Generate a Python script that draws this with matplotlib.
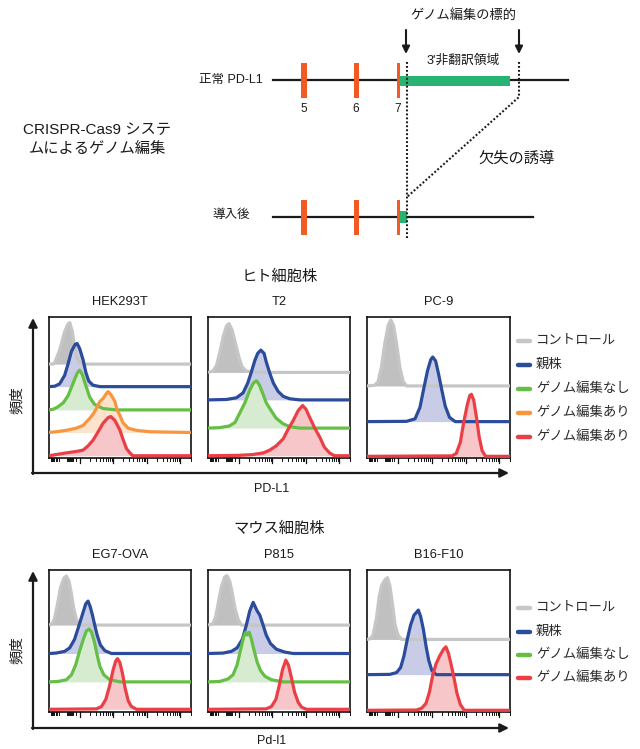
import matplotlib
matplotlib.use("Agg")
import matplotlib.pyplot as plt
from matplotlib.patches import Rectangle
import numpy as np

plt.rcParams['font.family'] = ['Liberation Sans', 'Noto Sans CJK JP']

# ---- data (x: % of panel width on the log axis, h: % of panel height) ----
series_line = ['#c6c6c6', '#2b4c9b', '#66bf45', '#f7963f', '#eb3f47']
series_fill = ['#c0c0c0', '#c9cce6', '#d6ebd0', '#fde2cc', '#f7c6c8']

human_titles = ['HEK293T', 'T2', 'PC-9']
mouse_titles = ['EG7-OVA', 'P815', 'B16-F10']
human_legend = ['コントロール', '親株', 'ゲノム編集なし', 'ゲノム編集あり', 'ゲノム編集あり']
mouse_legend = ['コントロール', '親株', 'ゲノム編集なし', 'ゲノム編集あり']

hek_series = [0, 1, 2, 3, 4]
hek_base = [66.6, 50.6, 34.1, 18.1, 1.6]
hek_x = [
    [0, 3, 4, 7.5, 11, 13.4, 14.6, 16.5, 18, 19.8, 21.6, 25, 100],
    [0, 4, 7.5, 11, 13.4, 15.8, 18.4, 19.8, 21.6, 24, 26, 28, 31, 36, 100],
    [0, 3, 6, 10, 13.4, 17, 19.8, 21.6, 23.5, 26, 28.7, 32, 38, 47.5, 100],
    [0, 5, 12, 19, 24, 28.7, 31, 33.4, 35.8, 38, 40, 41.6, 43.5, 46.4, 48, 50, 52, 55.8, 61.6, 71, 100],
    [0, 6, 12, 19, 24, 27.5, 31, 34.6, 38, 41.6, 43.5, 46.4, 50, 52, 54.6, 57, 59, 100],
]
hek_h = [
    [0, 0, 1, 10, 23, 28.5, 29.4, 23, 12, 4, 1, 0, 0],
    [0, 0.3, 2, 8, 16, 25, 30, 30.6, 27, 19, 10, 4, 1, 0, 0],
    [0, 0.5, 2, 5, 10, 19, 26, 28.2, 25, 17, 9, 4, 1, 0, 0],
    [0, 0.5, 1.5, 3, 5, 10, 13, 17, 22, 24, 27, 29, 27, 22, 16, 12, 7, 3, 1.5, 0.5, 0],
    [0, 1, 2, 3, 4, 7, 11, 17, 23, 27, 27.8, 25, 18, 12, 5, 2, 0, 0],
]

t2_series = [0, 1, 2, 4]
t2_base = [60.7, 41.2, 21.2, 1.6]
t2_x = [
    [0, 3.5, 6, 8.5, 10.6, 13, 14.8, 17, 19.5, 22, 24, 27, 32, 100],
    [0, 13, 20, 24.7, 28, 30.6, 33, 35, 37.2, 39.5, 41, 43.5, 46, 49.4, 53, 57.6, 64.7, 100],
    [0, 8, 15, 19, 22, 26, 29.4, 32, 34.1, 36, 38.8, 41, 44.7, 48, 53, 57.6, 64.7, 100],
    [0, 22, 31, 39, 43.5, 48, 53, 56, 60, 63.5, 66.6, 69, 71.7, 75, 78.8, 82, 85.6, 89, 100],
]
t2_h = [
    [0, 1, 5, 15, 25, 33, 34.6, 30, 20, 10, 4, 1, 0, 0],
    [0, 0.3, 1.5, 5, 12, 20, 28, 33, 35.3, 33, 27, 19, 12, 6, 2.5, 0.8, 0, 0],
    [0, 0.3, 1.5, 4, 10, 18, 27, 32, 33.6, 31, 24, 18, 12, 7, 3, 1, 0, 0],
    [0, 0.3, 0.8, 2, 4, 7, 12, 18, 25, 32, 35.6, 33, 27, 20, 13, 6, 2, 0, 0],
]

pc9_series = [0, 1, 4]
pc9_base = [51.1, 25.8, 1.2]
pc9_x = [
    [0, 5.4, 7.7, 10, 12.4, 14.8, 16.7, 18.5, 20.7, 23, 25.4, 27.7, 100],
    [0, 27.7, 33.6, 37, 39.4, 42.3, 44.6, 46, 48, 50, 52.4, 54.7, 57.7, 61.7, 100],
    [0, 59.4, 62.4, 65.3, 67.6, 70, 71.8, 73, 74.6, 76.5, 78.4, 80.5, 82.9, 100],
]
pc9_h = [
    [0, 0.5, 3, 13, 30, 43, 46.8, 43, 30, 13, 3, 0, 0],
    [0, 0.2, 2, 10, 22, 36, 44, 45.8, 43, 34, 22, 11, 3, 0, 0],
    [0, 0.3, 2, 10, 24, 36, 43, 44, 40, 28, 14, 4, 0, 0],
]

eg7_series = [0, 1, 2, 4]
eg7_base = [61.2, 41.2, 21.2, 1.9]
eg7_x = [
    [0, 2.4, 4, 6, 8, 10.4, 12.2, 14.1, 15.8, 17.4, 19.3, 21.6, 100],
    [0, 5, 11, 14.6, 18, 21.2, 24, 25.9, 27.5, 29, 30.6, 32.2, 33.9, 36.2, 39.3, 44, 100],
    [0, 6.4, 12.2, 15.8, 18.8, 21.6, 24.5, 26.4, 28.2, 30, 32, 33.9, 35.8, 38.6, 42.8, 50, 100],
    [0, 33.4, 37, 40, 42.8, 45.2, 47, 48.2, 49.9, 51.8, 53.6, 55.8, 58, 61.6, 100],
]
eg7_h = [
    [0, 1, 5, 15, 26, 33, 34.6, 31, 22, 12, 4, 0, 0],
    [0, 0.3, 1.5, 4, 10, 20, 29, 35, 36.9, 33, 27, 20, 13, 6, 2, 0, 0],
    [0, 0.3, 1.5, 5, 12, 22, 31, 36, 37.2, 35, 28, 19, 11, 5, 1.5, 0, 0],
    [0, 0.3, 2, 7, 17, 28, 34, 35.7, 33, 25, 15, 6, 2, 0, 0],
]

p815_series = [0, 1, 2, 4]
p815_base = [61.2, 41.2, 21.2, 1.9]
p815_x = [
    [0, 3.5, 5.4, 7.3, 9.4, 11.8, 13.4, 15.3, 17.2, 19, 21.2, 23.5, 100],
    [0, 10.6, 16.5, 20.5, 24.2, 27, 29.4, 31.8, 33.2, 34.6, 36.5, 38.8, 41, 44, 48.2, 54, 60, 100],
    [0, 8.2, 14, 17.6, 20.5, 22.8, 25.2, 26.6, 27.8, 29, 30.6, 32.5, 34.6, 37, 40, 44.7, 53, 100],
    [0, 41, 44.7, 47.8, 50, 52.5, 54.8, 56.7, 58.8, 61, 63.5, 65.9, 69.4, 100],
]
p815_h = [
    [0, 1, 6, 16, 27, 34, 34.8, 31, 22, 12, 4, 0, 0],
    [0, 0.3, 1.5, 4, 10, 20, 30, 36, 33, 30, 27, 20, 13, 7, 3, 1, 0, 0],
    [0, 0.3, 2, 5, 12, 22, 32, 35, 33, 35, 30, 22, 14, 8, 4, 1.5, 0, 0],
    [0, 0.3, 2, 7, 16, 28, 34.6, 31, 22, 12, 5, 1.5, 0, 0],
]

b16_series = [0, 1, 4]
b16_base = [51.1, 26.3, 1.2]
b16_x = [
    [0, 2.3, 4.2, 6.6, 8.5, 10.2, 12.5, 14.3, 16, 17.8, 19.7, 21.8, 24.2, 100],
    [0, 16, 20.7, 23.5, 25.8, 28.2, 30.5, 32.9, 34.7, 35.9, 37.5, 39.4, 41.3, 43.2, 45.3, 48.4, 100],
    [0, 34.7, 38.3, 41.3, 43.7, 46, 48.4, 50.7, 53.5, 55.2, 57, 58.9, 61, 62.9, 65.3, 68, 100],
]
b16_h = [
    [0, 0.5, 3, 15, 30, 38, 42, 43.5, 38, 25, 10, 3, 0, 0],
    [0, 0.2, 1.5, 5, 13, 25, 35, 42, 44, 45.5, 41, 32, 20, 10, 3, 0, 0],
    [0, 0.2, 1.5, 5, 13, 25, 33, 38, 43, 44.7, 40, 32, 22, 12, 4, 0, 0],
]

exon_labels = ['5', '6', '7']

# ---- figure ----
W, H = 640, 749
fig = plt.figure(figsize=(W / 100, H / 100), dpi=100)
bg = fig.add_axes([0, 0, 1, 1])
bg.set_xlim(0, W)
bg.set_ylim(H, 0)
bg.axis('off')

TXT = '#1a1a1a'

# gene diagram
bg.text(463, 15, 'ゲノム編集の標的', ha='center', va='center', fontsize=9.5, color=TXT)
for ax_x in (406, 519):
    bg.annotate('', xy=(ax_x, 54), xytext=(ax_x, 30),
                arrowprops=dict(arrowstyle='-|>', lw=1.5, color=TXT,
                                mutation_scale=11, shrinkA=0, shrinkB=0))
bg.text(463, 61, "3'非翻訳領域", ha='center', va='center', fontsize=9.2, color=TXT)
bg.text(263, 80, '正常 PD-L1', ha='right', va='center', fontsize=9, color=TXT)
bg.text(250, 215, '導入後', ha='right', va='center', fontsize=9, color=TXT)
bg.text(97, 130, 'CRISPR-Cas9 システ', ha='center', va='center', fontsize=11, color=TXT)
bg.text(97, 149, 'ムによるゲノム編集', ha='center', va='center', fontsize=11, color=TXT)
bg.text(517, 158, '欠失の誘導', ha='center', va='center', fontsize=11, color=TXT)

bg.plot([273, 568], [80, 80], color=TXT, lw=1.6, zorder=2)
bg.plot([273, 533], [217, 217], color=TXT, lw=1.6, zorder=2)
exon_x = [304, 356, 398]
exon_w = [6.5, 5, 3]
for ex, ew, lab in zip(exon_x, exon_w, exon_labels):
    bg.add_patch(Rectangle((ex - ew / 2, 63), ew, 35, color='#f15a24', lw=0, zorder=3))
    bg.add_patch(Rectangle((ex - ew / 2, 200), ew, 35, color='#f15a24', lw=0, zorder=3))
    bg.text(ex, 109, lab, ha='center', va='center', fontsize=8.5, color=TXT)
bg.add_patch(Rectangle((399, 76), 111, 10, color='#27b472', lw=0, zorder=3))
bg.add_patch(Rectangle((399, 211), 8, 12, color='#27b472', lw=0, zorder=3))
bg.plot([407, 407], [62, 240], color=TXT, lw=1.5, ls=(0, (0.9, 1.0)), zorder=4)
bg.plot([519, 519, 407], [62, 97, 197], color=TXT, lw=1.5, ls=(0, (0.9, 1.0)), zorder=4)


def log_ticks():
    d0, dw = 21.5, 23.7
    major = [d0 + k * dw for k in range(4)]
    minor = [d0 + (k + np.log10(m)) * dw for k in range(3) for m in range(2, 10)]
    minor += [d0 + (3 + np.log10(2)) * dw]
    minor += [d0 - np.log10(m) * 9 for m in range(2, 10)]
    minor += [10 - np.log10(m) * 9 for m in range(2, 10)]
    minor += [1.5]
    return major, minor


def draw_panel(box, title, series, base, xs, hs):
    x0, y0, x1, y1 = box
    ax = fig.add_axes([x0 / W, 1 - y1 / H, (x1 - x0) / W, (y1 - y0) / H])
    ax.set_xlim(0, 100)
    ax.set_ylim(0, 100)
    ax.set_xticks([])
    ax.set_yticks([])
    for s in ax.spines.values():
        s.set_linewidth(1.2)
        s.set_color('#111111')
    for i, (si, b, x, h) in enumerate(zip(series, base, xs, hs)):
        y = b + np.array(h)
        ax.fill_between(x, b, y, color=series_fill[si], lw=0, zorder=1 + i * 0.1)
        ax.plot(x, y, color=series_line[si], lw=2.3, zorder=3 + i * 0.1,
                solid_joinstyle='round', solid_capstyle='butt')
    major, minor = log_ticks()
    for t in major:
        ax.plot([t, t], [0, -3.2], color='#111111', lw=0.9, clip_on=False)
    for t in minor:
        ax.plot([t, t], [0, -1.8], color='#111111', lw=0.7, clip_on=False)
    bg.text((x0 + x1) / 2, y0 - 15, title, ha='center', va='center', fontsize=9.3, color=TXT)


def draw_legend(labels, colors, ys):
    for lab, c, y in zip(labels, colors, ys):
        bg.plot([518, 530], [y, y], color=c, lw=3.2, solid_capstyle='round')
        bg.text(536, y, lab, ha='left', va='center', fontsize=9.6, color='#2a2a2a')


def draw_frame(ytop, ybot):
    bg.annotate('', xy=(33, ytop), xytext=(33, ybot + 1),
                arrowprops=dict(arrowstyle='-|>', lw=1.6, color=TXT,
                                mutation_scale=13, shrinkA=0, shrinkB=0))
    bg.annotate('', xy=(509, ybot), xytext=(32, ybot),
                arrowprops=dict(arrowstyle='-|>', lw=1.6, color=TXT,
                                mutation_scale=13, shrinkA=0, shrinkB=0))


col_x = [(49, 191), (208, 350), (367, 510)]

# human panels
bg.text(280, 277, 'ヒト細胞株', ha='center', va='center', fontsize=11, color=TXT)
hy = (317, 458)
draw_panel((col_x[0][0], hy[0], col_x[0][1], hy[1]), human_titles[0], hek_series, hek_base, hek_x, hek_h)
draw_panel((col_x[1][0], hy[0], col_x[1][1], hy[1]), human_titles[1], t2_series, t2_base, t2_x, t2_h)
draw_panel((col_x[2][0], hy[0], col_x[2][1], hy[1]), human_titles[2], pc9_series, pc9_base, pc9_x, pc9_h)
draw_frame(318, 473)
bg.text(17, 400, '頻度', rotation=90, ha='center', va='center', fontsize=10, color=TXT)
bg.text(272, 489, 'PD-L1', ha='center', va='center', fontsize=9, color=TXT)
draw_legend(human_legend, series_line, [341, 365, 389, 413, 437])

# mouse panels
bg.text(279, 529, 'マウス細胞株', ha='center', va='center', fontsize=11, color=TXT)
my = (570, 712)
draw_panel((col_x[0][0], my[0], col_x[0][1], my[1]), mouse_titles[0], eg7_series, eg7_base, eg7_x, eg7_h)
draw_panel((col_x[1][0], my[0], col_x[1][1], my[1]), mouse_titles[1], p815_series, p815_base, p815_x, p815_h)
draw_panel((col_x[2][0], my[0], col_x[2][1], my[1]), mouse_titles[2], b16_series, b16_base, b16_x, b16_h)
draw_frame(571, 728)
bg.text(17, 650, '頻度', rotation=90, ha='center', va='center', fontsize=10, color=TXT)
bg.text(272, 741, 'Pd-l1', ha='center', va='center', fontsize=9, color=TXT)
draw_legend(mouse_legend, [series_line[i] for i in (0, 1, 2, 4)], [608, 632, 655, 678])

fig.savefig('out.png', dpi=100)
